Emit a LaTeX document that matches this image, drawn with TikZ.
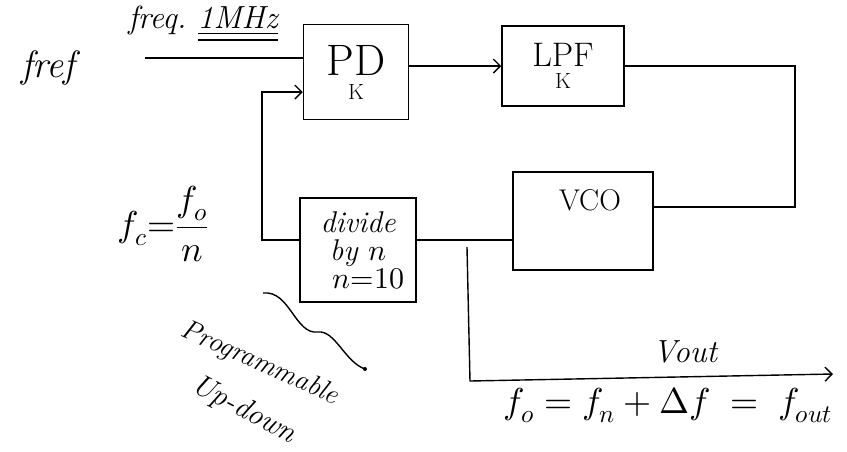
\documentclass[tikz,border=0pt]{standalone}
\usepackage{fontspec}
\usepackage{unicode-math}
\usetikzlibrary{arrows.meta,calc}
\begin{document}
\begin{tikzpicture}[x=1pt,y=-1pt,
  line width=1.4pt,
  blockbox/.style={draw, rectangle, line width=1.5pt, align=center, inner sep=2pt},
  wire/.style={line width=1.4pt},
  flow/.style={line width=1.4pt, -{Straight Barb[length=7pt,width=14pt,line width=1.4pt]}},
  hand/.style={font=\fontsize{22}{24}\selectfont\itshape}
]
\useasboundingbox (0,0) rectangle (847,451);

% blocks
\node[blockbox, minimum width=105pt, minimum height=95pt] (pd) at (356,72)
  {{\fontsize{44}{44}\selectfont PD}\\[8pt]{\fontsize{22}{22}\selectfont K}};
\node[blockbox, minimum width=122pt, minimum height=80pt] (lpf) at (563,66)
  {{\fontsize{34}{34}\selectfont LPF}\\[6pt]{\fontsize{22}{22}\selectfont K}};
\node[blockbox, minimum width=140pt, minimum height=98pt] (vco) at (583,221) {};
\node[font=\fontsize{30}{30}\selectfont] (vcotxt) at (590,200) {VCO};
\node[blockbox, minimum width=116pt, minimum height=104pt, inner sep=0pt,
  font=\fontsize{30}{28}\selectfont\itshape] (div) at (358,250)
  {divide\\by $n$\\ \ \ $n{=}10$};

% coordinates
\coordinate (fin) at (145,58);
\coordinate (fb) at (262,240);
\coordinate (tap) at (467,240);
\coordinate (corner) at (795,66);
\coordinate (bend) at (470,381);
\coordinate (out) at (833,374);
\coordinate (pdin) at (295,92);

% connectors
\draw[wire] (fin) -- (fin -| pd.west);
\draw[flow] (div.west |- fb) -- (fb) |- (pd.west |- pdin);
\draw[flow] (pd.east |- lpf.west) -- (lpf.west);
\draw[wire] (lpf.east) -- (corner) |- ([yshift=14pt]vco.east);
\draw[wire] (div.east |- tap) -- (vco.west |- tap);
\draw[flow] ([yshift=-7pt]tap) -- (bend) -- (out);

% labels
\node[hand, font=\fontsize{38}{40}\selectfont\itshape] (fref) at (48,68) {fref};
\node[hand, font=\fontsize{32}{34}\selectfont\itshape] (freq) at (203,24) {freq.\ \underline{\underline{1MHz}}};
\node[hand, font=\fontsize{36}{38}\selectfont] (fc) at (163,224) {$f_c{=}\displaystyle\frac{f_o}{n}$};
\node[hand, font=\fontsize{32}{34}\selectfont\itshape] (vout) at (685,352) {Vout};
\node[hand, font=\fontsize{36}{38}\selectfont] (fo) at (668,405)
  {$f_o = f_n + \Delta f \;=\; f_{out}$};
\node[hand, rotate=-24, font=\fontsize{28}{30}\selectfont\itshape] (prog) at (260,364)
  {Programmable};
\node[hand, rotate=-28, font=\fontsize{30}{32}\selectfont\itshape] (updown) at (244,410)
  {Up-down};

% brace-like pointer from label to divider
\coordinate (p0) at (263,293);
\coordinate (p3) at (365,369);
\draw[wire] (p0) .. controls (290,290) and (295,335) .. (318,332)
  .. controls (335,330) and (345,362) .. (p3);
\fill (p3) circle (2pt);
\end{tikzpicture}
\end{document}
